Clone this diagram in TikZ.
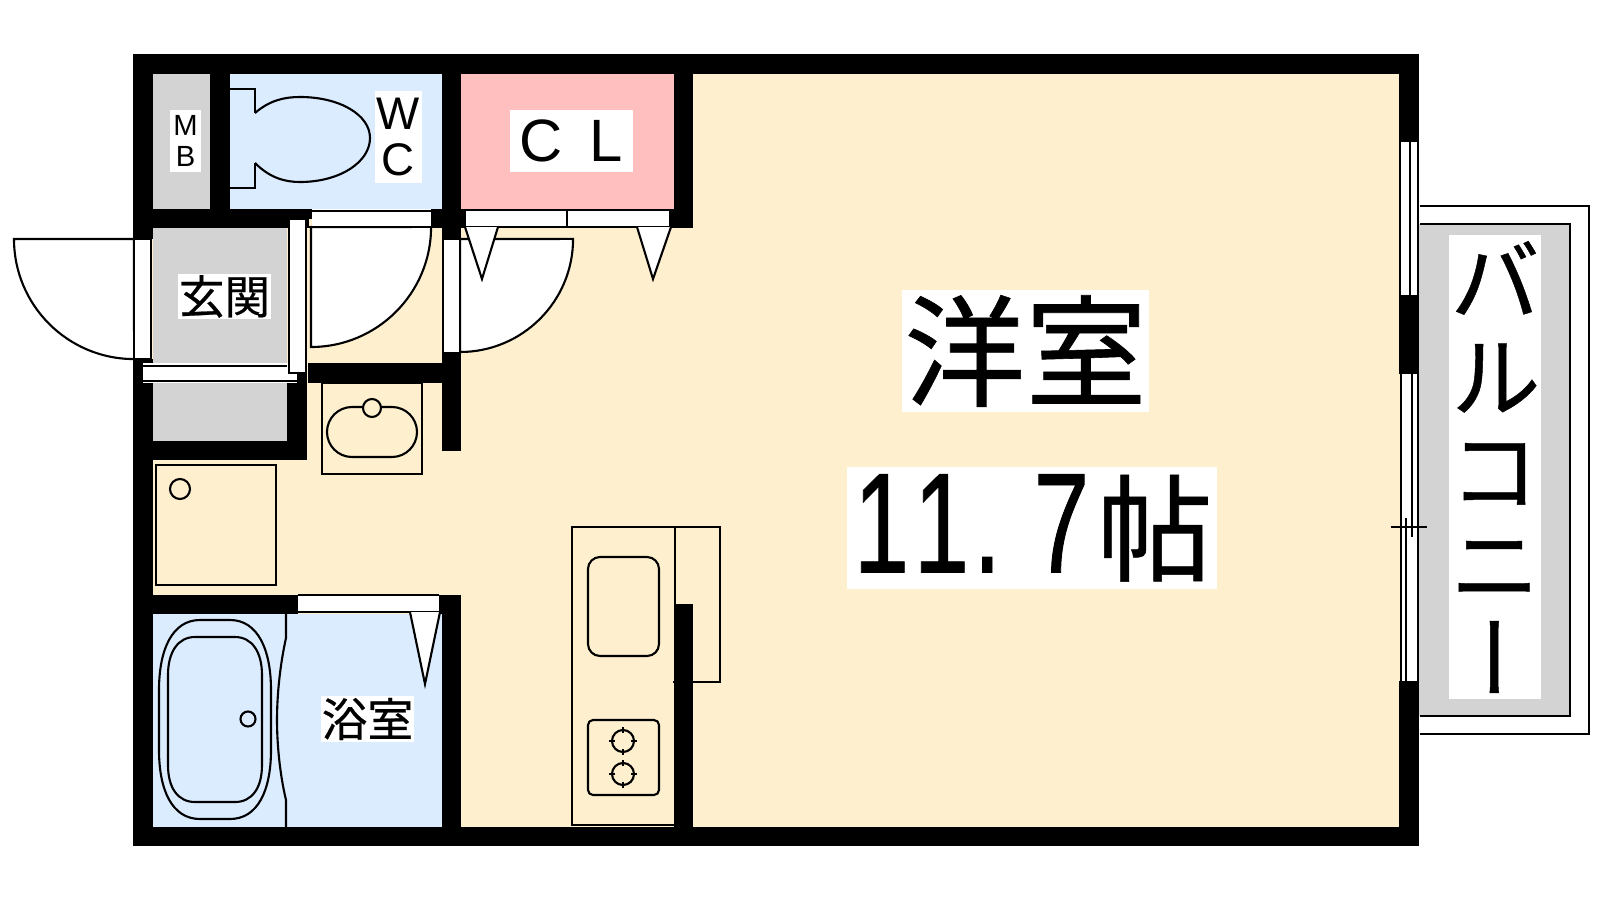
\documentclass[tikz,border=0pt]{standalone}
\usepackage{fontspec}
\setmainfont{Liberation Sans}
\newfontfamily\cjk[FakeBold=0.5]{Noto Sans CJK JP}
\newfontfamily\cjkv[RawFeature={+vert},FakeBold=0.5]{Noto Sans CJK JP}
\newfontfamily\narrowfig[FakeStretch=0.7,FakeBold=0.6]{Liberation Sans}
\newcommand{\figcell}[1]{\makebox[0.6cm]{#1}}
\definecolor{floorcol}{HTML}{FEF0CF}
\definecolor{wetcol}{HTML}{DBECFF}
\definecolor{closetcol}{HTML}{FFBFBF}
\definecolor{graycol}{HTML}{D3D3D3}
\tikzset{
	roomlabel/.style={fill=white, inner sep=0pt, align=center},
	fixture/.style={line width=0.6pt},
	doorleaf/.style={line width=0.6pt, fill=white},
}
\begin{document}
\begin{tikzpicture}[x=0.01cm, y=-0.01cm]
	\useasboundingbox (0,0) rectangle (1600,900);
	%floors
	\fill[floorcol] (133,54) rectangle (1419,846);
	\fill[graycol] (153,74) rectangle (210,209);
	\fill[wetcol] (230,74) rectangle (442,209);
	\fill[closetcol] (461,74) rectangle (674,209);
	\fill[graycol] (153,228) rectangle (287,441);
	\fill[wetcol] (153,614) rectangle (442,827);
	%balcony
	\draw[fixture] (1420,206) -- (1589,206) -- (1589,734) -- (1420,734);
	\fill[graycol] (1419,224) rectangle (1570,716);
	\draw[fixture] (1420,224) -- (1570,224) -- (1570,716) -- (1420,716);
	
	%door swings
	\draw[doorleaf] (134,239) -- (14,239) arc[start angle=180, end angle=270, radius=1.2cm] -- cycle;
	\draw[doorleaf] (311,227) -- (311,347) arc[start angle=270, end angle=360, radius=1.2cm] -- cycle;
	\draw[doorleaf] (460,239) -- (460,352) arc[start angle=270, end angle=360, radius=1.13cm] -- cycle;
	
	%walls
	\foreach \xa/\ya/\xb/\yb in {133/54/1419/74, 133/827/1419/846, 133/54/153/239, 133/359/153/846,
		210/74/230/209, 442/74/461/239, 674/74/693/228, 133/209/312/219, 133/219/288/228, 306/219/309/228,
		431/209/461/228, 461/209/693/228, 308/363/442/383, 442/353/461/451, 287/373/307/460, 133/441/307/460,
		133/595/298/614, 439/595/461/614, 442/595/461/827,
		1399/74/1419/142, 1399/295/1419/374, 1399/681/1419/846}{
		\fill (\xa,\ya) rectangle (\xb,\yb);
	}
	
	%door frames
	\draw[doorleaf] (134,239) rectangle (151,359);
	\fill[white] (143,363) rectangle (297,383);
	\draw[fixture] (143,366) -- (287,366);
	\draw[fixture] (143,381) -- (297,381);
	\draw[doorleaf] (289,219) rectangle (306,373);
	\fill[white] (312,209) rectangle (431,226);
	\draw[fixture] (312,211) -- (431,211);
	\draw[fixture] (308,227) -- (431,227);
	\draw[doorleaf] (443,239) rectangle (460,353);
	\draw[doorleaf] (465,210) rectangle (567,227);
	\draw[doorleaf] (567,210) rectangle (670,227);
	\draw[doorleaf] (465,227) -- (482,279) -- (498,227);
	\draw[doorleaf] (637,227) -- (653,279) -- (671,227);
	\fill[white] (298,596) rectangle (439,612);
	\draw[fixture] (298,595) -- (439,595);
	\draw[fixture] (298,612) -- (439,612);
	\draw[doorleaf] (410,612) -- (425,684) -- (440,612);
	
	%windows
	\fill[white] (1400,142) rectangle (1418,295);
	\fill[white] (1400,374) rectangle (1418,681);
	\foreach \x in {1400, 1410, 1418}{
		\draw[fixture] (\x,142) -- (\x,295);
	}
	\foreach \x in {1401, 1418}{
		\draw[fixture] (\x,374) -- (\x,681);
	}
	\draw[fixture] (1412,374) -- (1412,537);
	\draw[fixture] (1406,518) -- (1406,681);
	\draw[fixture] (1391,527) -- (1427,527);
	
	%toilet
	\draw[fixture] (230,89) -- (255,89) -- (255,113);
	\draw[fixture] (230,188) -- (255,188) -- (255,163);
	\draw[fixture] (255,113) .. controls (270,100) and (285,97) .. (300,97)
		.. controls (340,97) and (370,115) .. (370,138)
		.. controls (370,162) and (340,182) .. (300,182)
		.. controls (285,182) and (270,178) .. (255,163);
	
	%washbasin
	\draw[fixture] (322,383) rectangle (422,474);
	\draw[fixture, rounded corners=0.25cm] (327,407) rectangle (417,457);
	\draw[fixture, fill=floorcol] (372,408) circle (0.09cm);
	
	%washer
	\draw[fixture] (156,465) rectangle (276,585);
	\draw[fixture] (180,489) circle (0.1cm);
	
	%bath
	\draw[fixture] (200,620) -- (230,620) .. controls (258,620) and (271,650) .. (271,690) -- (271,750)
		.. controls (271,790) and (258,819) .. (230,819) -- (200,819)
		.. controls (172,819) and (159,790) .. (159,750) -- (159,690)
		.. controls (159,650) and (172,620) .. (200,620) -- cycle;
	\draw[fixture] (195,637) -- (235,637) .. controls (252,637) and (262,652) .. (262,675) -- (262,765)
		.. controls (262,788) and (252,802) .. (235,802) -- (195,802)
		.. controls (178,802) and (168,788) .. (168,765) -- (168,675)
		.. controls (168,652) and (178,637) .. (195,637) -- cycle;
	\draw[fixture] (248,719) circle (0.075cm);
	\draw[fixture] (286,614) -- (286,638) .. controls (280,665) and (277,695) .. (277,720)
		.. controls (277,745) and (280,775) .. (286,800) -- (286,827);
	
	%kitchen
	\draw[fixture] (572,527) rectangle (675,825);
	\draw[fixture] (673,527) -- (720,527) -- (720,682) -- (673,682);
	\fill (674,604) rectangle (693,827);
	\draw[fixture, rounded corners=0.12cm] (588,557) rectangle (659,656);
	\draw[fixture, rounded corners=0.05cm] (588,720) rectangle (659,795);
	\foreach \y in {741, 774}{
		\draw[fixture] (623,\y) circle (0.11cm);
		\draw[fixture] (609,\y) -- (615,\y);
		\draw[fixture] (631,\y) -- (637,\y);
		\draw[fixture] (623,\y-14) -- (623,\y-8);
		\draw[fixture] (623,\y+8) -- (623,\y+14);
	}
	
	%labels
	\node[roomlabel, minimum width=0.31cm, minimum height=0.62cm, font=\fontsize{8.3}{8.9}\selectfont] (mb) at (185.5,141)
		{M\\B};
	\node[roomlabel, minimum width=0.47cm, minimum height=0.92cm, font=\fontsize{13}{13.2}\selectfont] (wc) at (398.5,137)
		{W\\C};
	\node[roomlabel, minimum width=1.23cm, minimum height=0.62cm, font=\fontsize{17}{18}\selectfont] (cl) at (571.5,141)
		{C\hspace{0.45em}L};
	\node[roomlabel, minimum width=0.93cm, minimum height=0.45cm, font=\cjk\fontsize{13}{14}\selectfont] (genkan) at (224.5,296.5)
		{玄関};
	\node[roomlabel, minimum width=0.93cm, minimum height=0.46cm, font=\cjk\fontsize{13}{14}\selectfont] (yokushitsu) at (367.5,719)
		{浴室};
	\node[roomlabel, minimum width=2.47cm, minimum height=1.22cm, font=\cjk\fontsize{34.5}{36}\selectfont] (yoshitsu) at (1025.5,351)
		{\raisebox{-0.07cm}{洋室}};
	\node[roomlabel, minimum width=3.7cm, minimum height=1.22cm, font=\narrowfig\fontsize{40.5}{42}\selectfont] (area) at (1032,528)
		{\figcell{1}\figcell{1}\makebox[0.6cm][l]{\hspace{0.02cm}.}\figcell{7}\hspace{0.05cm}{\cjk\fontsize{33}{36}\selectfont 帖}};
	\node[roomlabel, minimum width=0.92cm, minimum height=4.64cm, font=\cjkv\fontsize{26}{26.7}\selectfont] (balcony) at (1495,467)
		{\raisebox{0.02cm}{バ}\\ル\\コ\\ニ\\ー};
\end{tikzpicture}
\end{document}
